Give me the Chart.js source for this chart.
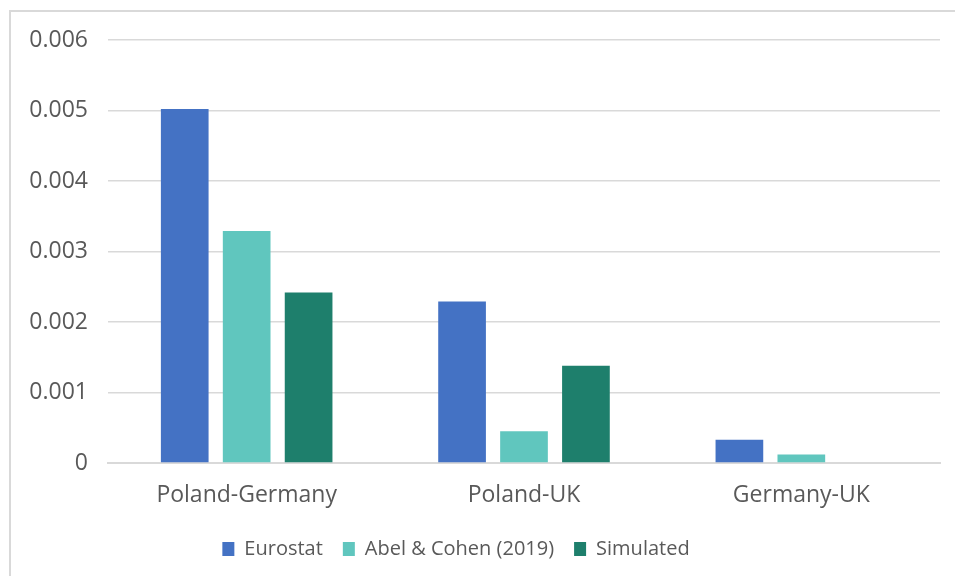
<!DOCTYPE html>
<html>
<head>
<meta charset="utf-8">
<script src="https://cdn.jsdelivr.net/npm/chart.js@4.4.1/dist/chart.umd.min.js"></script>
<style>
  html, body { margin: 0; padding: 0; background: #fff; }
  #wrap { position: relative; width: 955px; height: 576px; overflow: hidden; }
  #frame { position: absolute; left: 9px; top: 10px; width: 960px; height: 580px;
           border-top: 2px solid #d9d9d9; border-left: 2px solid #d9d9d9; box-sizing: border-box; }
  #chart { position: absolute; left: 0; top: 0; }
</style>
</head>
<body>
<div id="wrap">
  <div id="frame"></div>
  <canvas id="chart" width="955" height="576"></canvas>
</div>
<script>
const categories = ['Poland-Germany', 'Poland-UK', 'Germany-UK'];
const seriesNames = ['Eurostat', 'Abel & Cohen (2019)', 'Simulated'];
const eurostat = [0.00502, 0.00229, 0.00033];
const abelCohen = [0.00329, 0.00045, 0.00012];
const simulated = [0.00242, 0.00138, 0];
const yTicks = [0, 0.001, 0.002, 0.003, 0.004, 0.005, 0.006];

const colors = ['#4472C4', '#60C6BE', '#1E7F6C'];
const textColor = '#595959';
const fontFamily = "'Open Sans', sans-serif";
const fontSize = 23;

const datasets = [eurostat, abelCohen, simulated].map((values, i) => ({
  label: seriesNames[i],
  data: values,
  backgroundColor: colors[i],
  borderWidth: 0,
  categoryPercentage: 0.67,
  barPercentage: 0.77
}));

// nudge the legend row a little left and up
const legendShift = {
  id: 'legendShift',
  afterLayout(chart) {
    const lg = chart.legend;
    lg.left -= 14;
    lg.right -= 14;
    lg.top -= 2;
    lg.bottom -= 2;
  }
};

new Chart(document.getElementById('chart').getContext('2d'), {
  type: 'bar',
  data: { labels: categories, datasets: datasets },
  plugins: [legendShift],
  options: {
    responsive: false,
    animation: false,
    layout: { padding: { top: 40, right: 15, bottom: 5, left: 0 } },
    plugins: {
      tooltip: { enabled: false },
      legend: {
        position: 'bottom',
        labels: {
          color: textColor,
          font: { family: fontFamily, size: 20 },
          boxWidth: 12,
          boxHeight: 14,
          padding: 20
        }
      }
    },
    scales: {
      x: {
        grid: { display: false },
        border: { color: '#d9d9d9', width: 2 },
        ticks: { color: textColor, font: { family: fontFamily, size: fontSize }, padding: 11 },
        afterFit: scale => { scale.height = 58; }
      },
      y: {
        min: 0,
        max: 0.006,
        afterBuildTicks: scale => { scale.ticks = yTicks.map(v => ({ value: v })); },
        grid: { color: '#d9d9d9', lineWidth: 1.5, drawTicks: false },
        border: { display: false },
        ticks: {
          color: textColor,
          font: { family: fontFamily, size: fontSize },
          padding: 20,
          callback: v => (v === 0 ? '0' : v.toFixed(3))
        },
        afterFit: scale => { scale.width = 108; }
      }
    }
  }
});
</script>
</body>
</html>
